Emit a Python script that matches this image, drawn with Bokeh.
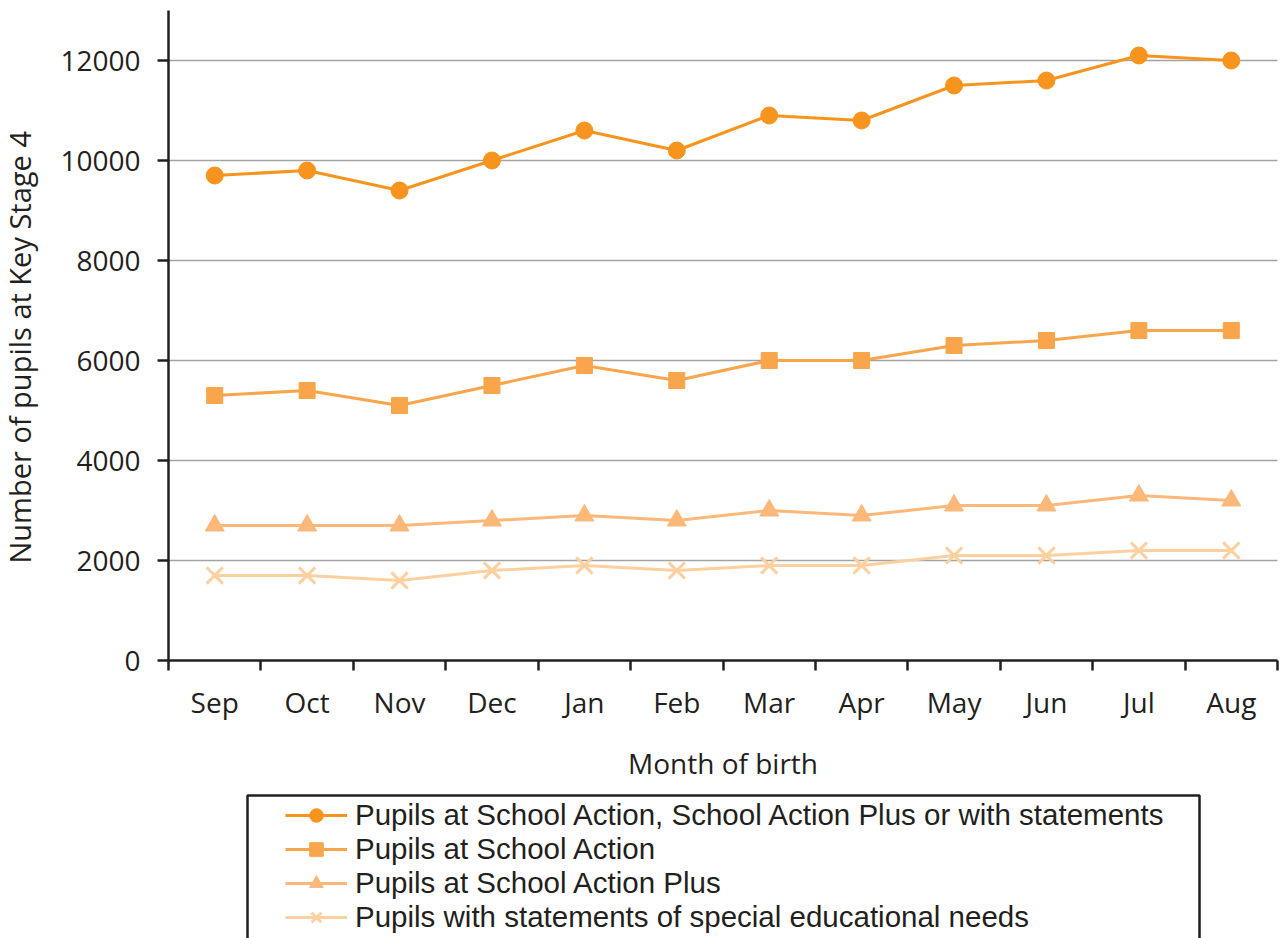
import math
from bokeh.plotting import figure
from bokeh.models import (FixedTicker, Legend, LegendItem, Label, BoxAnnotation, Range1d)
from bokeh.embed import file_html
from bokeh.resources import INLINE

months = ["Sep", "Oct", "Nov", "Dec", "Jan", "Feb", "Mar", "Apr", "May", "Jun", "Jul", "Aug"]
all_sen = [9700, 9800, 9400, 10000, 10600, 10200, 10900, 10800, 11500, 11600, 12100, 12000]
school_action = [5300, 5400, 5100, 5500, 5900, 5600, 6000, 6000, 6300, 6400, 6600, 6600]
action_plus = [2700, 2700, 2700, 2800, 2900, 2800, 3000, 2900, 3100, 3100, 3300, 3200]
statements = [1700, 1700, 1600, 1800, 1900, 1800, 1900, 1900, 2100, 2100, 2200, 2200]
y_ticks = [0, 2000, 4000, 6000, 8000, 10000, 12000]
y_max = 13000
labels = [
    "Pupils at School Action, School Action Plus or with statements",
    "Pupils at School Action",
    "Pupils at School Action Plus",
    "Pupils with statements of special educational needs",
]
x_title = "Month of birth"
y_title = "Number of pupils at Key Stage 4"

FONT = "Open Sans"
LEG_FONT = "Liberation Sans"
DARK = "#231f20"
colors = ["#F7941D", "#F9A54B", "#FBB879", "#FDD0A0"]
markers = ["circle", "square", "triangle", "x"]
sizes = [17, 16, 19, 23]

W, H = 1282, 938
n = len(months)
xs = [i + 0.5 for i in range(n)]

# pixel layout of the plotting area inside the canvas
left_px, right_px, zero_px, top_px = 168, 1277, 660, 10
ppx = (right_px - left_px) / n            # pixels per category
ppy = (zero_px - top_px) / y_max          # pixels per pupil
x_range = Range1d(-left_px / ppx, n + (W - right_px) / ppx)
y_range = Range1d(-(H - zero_px) / ppy, y_max + top_px / ppy)

p = figure(width=W, height=H, output_backend="svg", toolbar_location=None,
           x_range=x_range, y_range=y_range,
           min_border_left=0, min_border_right=0, min_border_top=0, min_border_bottom=0)
p.outline_line_color = None
p.background_fill_color = "white"
p.border_fill_color = "white"
p.xgrid.visible = False
p.ygrid.visible = False

# horizontal gridlines (only across the chart area)
p.segment(x0=[0] * (len(y_ticks) - 1), x1=[n] * (len(y_ticks) - 1),
          y0=y_ticks[1:], y1=y_ticks[1:], line_color="#a3a3a3", line_width=1.5)

# x axis drawn at y = 0
xa = p.xaxis[0]
xa.fixed_location = 0
xa.bounds = (0, n)
xa.ticker = FixedTicker(ticks=xs, minor_ticks=list(range(n + 1)))
xa.major_label_overrides = {x: m for x, m in zip(xs, months)}
xa.major_tick_line_alpha = 0
xa.minor_tick_out = 10
xa.minor_tick_in = 0
xa.minor_tick_line_color = DARK
xa.minor_tick_line_width = 2.5
xa.major_tick_out = 10
xa.major_tick_in = 0
xa.major_label_standoff = 12
xa.axis_label = x_title
xa.axis_label_standoff = 20

ya = p.yaxis[0]
ya.fixed_location = 0
ya.bounds = (0, y_max)
ya.ticker = FixedTicker(ticks=y_ticks)
ya.minor_tick_line_color = None
ya.major_tick_out = 11
ya.major_tick_in = 0
ya.major_label_standoff = 17

for ax in (xa, ya):
    ax.axis_line_color = DARK
    ax.axis_line_width = 2.5
    ax.major_tick_line_color = DARK
    ax.major_tick_line_width = 2.5
    ax.major_label_text_font = FONT
    ax.major_label_text_font_size = "28px"
    ax.major_label_text_color = DARK
    ax.axis_label_text_font = FONT
    ax.axis_label_text_font_size = "28px"
    ax.axis_label_text_color = DARK
    ax.axis_label_text_font_style = "normal"

ylab = Label(text=y_title, x=19, y=H - 563, x_units="screen", y_units="screen",
             angle=math.pi / 2, text_align="left", text_baseline="alphabetic",
             text_font=FONT, text_font_size="29px", text_color=DARK)
p.add_layout(ylab)

# one legend row per series, stacked at the reference's row spacing
row_bottoms = [106, 72, 38, 4]
for series, lab, col, mk, sz, vy in zip([all_sen, school_action, action_plus, statements],
                                        labels, colors, markers, sizes, row_bottoms):
    ln = p.line(xs, series, line_color=col, line_width=3)
    if mk == "x":
        sc = p.scatter(xs, series, marker=mk, size=sz, line_color=col, line_width=3)
    else:
        sc = p.scatter(xs, series, marker=mk, size=sz, fill_color=col, line_color=col)
    lg = Legend(items=[LegendItem(label=lab, renderers=[ln, sc])], location=(285, vy),
                padding=0, spacing=0, margin=0,
                glyph_width=62, glyph_height=34, label_height=34, label_standoff=8,
                label_text_font=LEG_FONT, label_text_font_size="29.5px", label_text_color=DARK,
                border_line_alpha=0, background_fill_alpha=0)
    p.add_layout(lg, "center")

box = BoxAnnotation(left=247, right=1199, top=795, bottom=960,
                    left_units="canvas", right_units="canvas", top_units="canvas", bottom_units="canvas",
                    fill_alpha=0, line_color=DARK, line_width=2.5, line_alpha=1)
p.add_layout(box)

open("out.html", "w").write(file_html(p, INLINE))
